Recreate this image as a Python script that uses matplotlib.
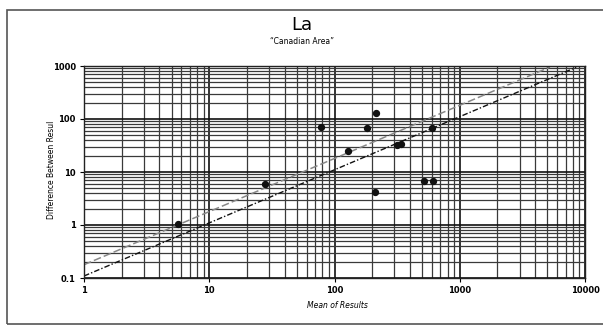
import matplotlib
matplotlib.use("Agg")
import matplotlib.pyplot as plt
import numpy as np
from matplotlib.ticker import FixedLocator, LogLocator, NullFormatter
from matplotlib.patches import Rectangle

# data
mean_results = [5.6, 28.0, 78, 127, 181, 214, 212, 314, 340, 521, 611, 597]
diff_results = [1.03, 5.9, 70, 25, 68, 131, 4.25, 32, 33.5, 6.7, 6.7, 67]

# reference lines (x range, y values)
line1_x = [1, 8500]
line1_y = [0.109, 945]
line2_x = [1, 5250]
line2_y = [0.178, 955]

x_ticks = [1, 10, 100, 1000, 10000]
x_tick_labels = ["1", "10", "100", "1000", "10000"]
y_ticks = [0.1, 1, 10, 100, 1000]
y_tick_labels = ["0.1", "1", "10", "100", "1000"]

fig = plt.figure(figsize=(6.03, 3.27), dpi=100)
fig.patch.set_facecolor("white")
fig.add_artist(Rectangle((7/603, 3/327), 1.0, 314/327, transform=fig.transFigure,
                         fill=False, edgecolor="#555555", lw=1.2))

ax = fig.add_axes([84/603, 49/327, 501/603, 212/327])
ax.set_xscale("log")
ax.set_yscale("log")
ax.set_xlim(1, 10000)
ax.set_ylim(0.1, 1000)

ax.xaxis.set_major_locator(FixedLocator(x_ticks))
ax.yaxis.set_major_locator(FixedLocator(y_ticks))
ax.xaxis.set_minor_locator(LogLocator(base=10, subs=np.arange(2, 10)))
ax.yaxis.set_minor_locator(LogLocator(base=10, subs=np.arange(2, 10)))
ax.xaxis.set_minor_formatter(NullFormatter())
ax.yaxis.set_minor_formatter(NullFormatter())
ax.set_xticks(x_ticks)
ax.set_xticklabels(x_tick_labels)
ax.set_yticks(y_ticks)
ax.set_yticklabels(y_tick_labels)
ax.tick_params(axis="both", which="major", labelsize=6, length=3, width=0.8, pad=3)
ax.tick_params(axis="both", which="minor", length=0)
for lab in ax.get_xticklabels() + ax.get_yticklabels():
    lab.set_fontweight("bold")

ax.grid(True, which="major", color="#111111", lw=1.2)
ax.grid(True, which="minor", color="#3a3a3a", lw=0.9)
ax.set_axisbelow(True)
for s in ax.spines.values():
    s.set_color("#222222")
    s.set_linewidth(1.0)

ax.plot(line2_x, line2_y, color="#888888", lw=1.1, ls=(0, (5, 2)))
ax.plot(line1_x, line1_y, color="#111111", lw=1.0, ls=(0, (4, 1.5, 1, 1.5)))
ax.scatter(mean_results, diff_results, s=18, color="#111111", zorder=5)

fig.text(0.5, 1 - 25/327, "La", ha="center", va="center", fontsize=13)
fig.text(0.5, 1 - 42/327, "\u201cCanadian Area\u201d", ha="center", va="center", fontsize=5.5)
fig.text(307/603, 1 - 306/327, "Mean of Results", ha="left", va="center",
         fontsize=5.5, style="italic")
fig.text(52/603, 1 - 170/327, "Difference Between Resul", ha="center", va="center",
         rotation=90, fontsize=5.5)

fig.savefig("out.png", dpi=100, facecolor="white")
